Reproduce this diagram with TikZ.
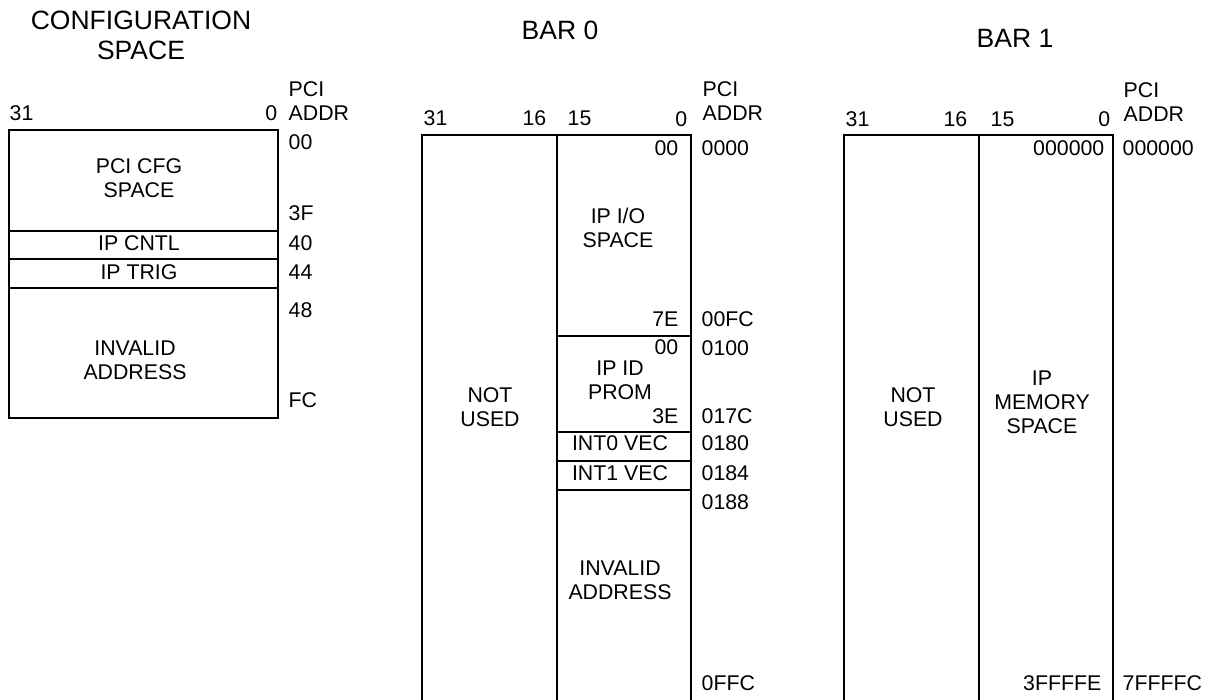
\documentclass[tikz,border=0pt]{standalone}
\usepackage{fontspec}
\setmainfont{Liberation Sans}
\usepackage{tikz}

\begin{document}
\begin{tikzpicture}[x=1pt,y=-1pt,line width=1.4pt,
  lbl/.style={font=\fontsize{21.3}{24}\selectfont,inner sep=0pt,align=center},
  ttl/.style={font=\fontsize{26.5}{30}\selectfont,inner sep=0pt,align=center},
  addr/.style={lbl,anchor=west,align=left},
  off/.style={lbl,anchor=east}]
\useasboundingbox (0,0) rectangle (1208,700);

% configuration space
\node[ttl] (cfgtitle) at (141,35) {CONFIGURATION\\SPACE};
\draw (9,130) rectangle (278,418);
\draw (9,231) -- (278,231);
\draw (9,259) -- (278,259);
\draw (9,288) -- (278,288);
\node[lbl,anchor=west] (cfghi) at (9,113) {31};
\node[off] (cfglo) at (278,113) {0};
\node[addr] (cfgpci) at (288,101) {PCI\\ADDR};
\node[addr] (cfga00) at (288,142) {00};
\node[addr] (cfga3f) at (288,213) {3F};
\node[addr] (cfga40) at (288,243) {40};
\node[addr] (cfga44) at (288,272) {44};
\node[addr] (cfga48) at (288,310) {48};
\node[addr] (cfgafc) at (288,400) {FC};
\node[lbl] (cfgspace) at (139,178) {PCI CFG\\SPACE};
\node[lbl] (ipcntl) at (139,243) {IP CNTL};
\node[lbl] (iptrig) at (139,272) {IP TRIG};
\node[lbl] (cfginv) at (135,360) {INVALID\\ADDRESS};

% BAR 0
\node[ttl] (bar0title) at (560,30) {BAR 0};
\draw (422,702) -- (422,135) -- (691,135) -- (691,702);
\draw (557,135) -- (557,702);
\draw (557,336) -- (691,336);
\draw (557,432) -- (691,432);
\draw (557,461) -- (691,461);
\draw (557,490) -- (691,490);
\node[lbl,anchor=west] (bar0hi) at (423,118) {31};
\node[off] (bar0b16) at (547,118) {16};
\node[lbl,anchor=west] (bar0b15) at (567,118) {15};
\node[off] (bar0lo) at (688,119) {0};
\node[addr] (bar0pci) at (702,101) {PCI\\ADDR};
\node[lbl] (bar0unused) at (490,407) {NOT\\USED};
\node[off] (iostart) at (679,148) {00};
\node[off] (ioend) at (679,319) {7E};
\node[lbl] (iospace) at (618,228) {IP I/O\\SPACE};
\node[off] (idstart) at (679,347) {00};
\node[off] (idend) at (679,416) {3E};
\node[lbl] (idprom) at (620,380) {IP ID\\PROM};
\node[lbl] (int0vec) at (620,443) {INT0 VEC};
\node[lbl] (int1vec) at (620,473) {INT1 VEC};
\node[lbl] (bar0inv) at (620,580) {INVALID\\ADDRESS};
\node[addr] (bar0a0000) at (701,148) {0000};
\node[addr] (bar0a00fc) at (701,319) {00FC};
\node[addr] (bar0a0100) at (701,348) {0100};
\node[addr] (bar0a017c) at (701,416) {017C};
\node[addr] (bar0a0180) at (701,443) {0180};
\node[addr] (bar0a0184) at (701,473) {0184};
\node[addr] (bar0a0188) at (701,502) {0188};
\node[addr] (bar0a0ffc) at (701,683) {0FFC};

% BAR 1
\node[ttl] (bar1title) at (1015,38) {BAR 1};
\draw (844,702) -- (844,135) -- (1113,135) -- (1113,702);
\draw (979,135) -- (979,702);
\node[lbl,anchor=west] (bar1hi) at (845,119) {31};
\node[off] (bar1b16) at (968,119) {16};
\node[lbl,anchor=west] (bar1b15) at (990,119) {15};
\node[off] (bar1lo) at (1111,119) {0};
\node[addr] (bar1pci) at (1123,102) {PCI\\ADDR};
\node[lbl] (bar1unused) at (913,407) {NOT\\USED};
\node[lbl] (memspace) at (1042,402) {IP\\MEMORY\\SPACE};
\node[off] (memstart) at (1105,148) {000000};
\node[off] (memend) at (1102,683) {3FFFFE};
\node[addr] (bar1a000000) at (1122,148) {000000};
\node[addr] (bar1a7ffffc) at (1122,683) {7FFFFC};
\end{tikzpicture}
\end{document}
